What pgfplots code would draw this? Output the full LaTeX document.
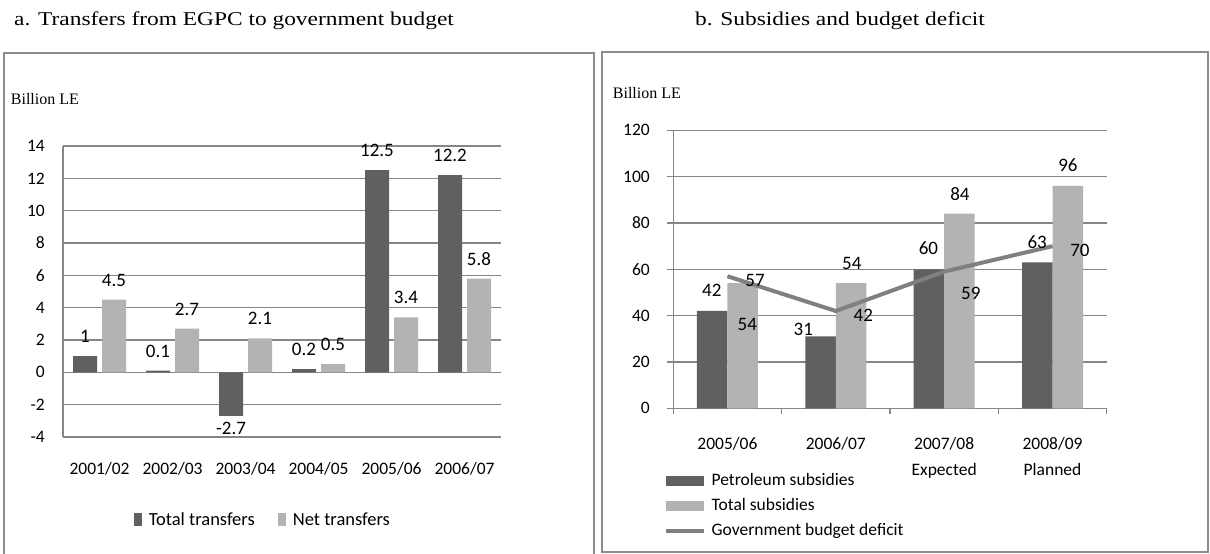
\documentclass[border=0pt]{standalone}
\usepackage{pgfplots}
\pgfplotsset{compat=1.18}
\usepackage{fontspec}
\setmainfont{Carlito}
\newfontfamily\tnr{Liberation Serif}
\newfontfamily\tnrwide[FakeStretch=1.2]{Liberation Serif}
\definecolor{darkbar}{HTML}{606060}
\definecolor{lightbar}{HTML}{B3B3B3}
\definecolor{gridc}{HTML}{868686}
\definecolor{linec}{HTML}{808080}
\definecolor{framec}{HTML}{8C8C8C}
\newcommand{\cf}{\fontsize{17.5}{26}\selectfont}
\newcommand{\lf}{\fontsize{19}{26}\selectfont}
\begin{document}
\begin{tikzpicture}
\useasboundingbox (0pt,0pt) rectangle (1210pt,554pt);
% frames
\draw[framec, line width=2pt] (4pt,-6pt) rectangle (594pt,500.7pt);
\draw[framec, line width=2pt] (601.5pt,1.7pt) rectangle (1208.3pt,501.7pt);
% titles
\node[anchor=base, inner sep=0pt, font=\tnrwide\fontsize{19.5}{22}\selectfont] at (234pt,528pt) {a. Transfers from EGPC to government budget};
\node[anchor=base, inner sep=0pt, font=\tnrwide\fontsize{19.5}{22}\selectfont] at (840pt,528pt) {b. Subsidies and budget deficit};
\node[anchor=base west, inner sep=0pt, font=\tnr\fontsize{16}{18}\selectfont] at (10.7pt,449pt) {Billion LE};
\node[anchor=base west, inner sep=0pt, font=\tnr\fontsize{16}{18}\selectfont] at (612.7pt,455pt) {Billion LE};

% ---------- panel a ----------
\begin{axis}[at={(63pt,117pt)}, anchor=south west, scale only axis,
  width=438pt, height=291pt, clip=false,
  xmin=-0.5, xmax=5.5, ymin=-4, ymax=14,
  ytick={-4,-2,...,14}, xtick={0,...,5},
  xticklabels={2001/02,2002/03,2003/04,2004/05,2005/06,2006/07},
  axis y line*=left, axis x line*=bottom,
  axis line style={gridc, line width=1.3pt},
  ymajorgrids, grid style={gridc, line width=1.3pt},
  major tick length=0pt,
  /pgf/number format/assume math mode=true,
  tick label style={font=\cf},
  yticklabel style={anchor=east, inner sep=0pt, xshift=-18pt},
  xticklabel style={anchor=base, inner sep=0pt, yshift=-37.5pt},
  legend style={at={(0.454,-0.285)}, anchor=center, draw=none, fill=none,
    legend columns=2, font=\fontsize{18.5}{26}\selectfont, inner sep=0pt, nodes={inner sep=0pt},
    /tikz/every odd column/.append style={column sep=6.5pt},
    /tikz/every even column/.append style={column sep=23pt}},
  legend cell align=left,
]
\addplot[ybar, bar width=24pt, bar shift=-14.5pt, fill=darkbar, draw=none,
  nodes near coords, visualization depends on={y \as \rawy},
  every node near coord/.append style={anchor=center, inner sep=0pt, font=\lf, black, xshift=-14.5pt, yshift={(\rawy>0)*31.5-12}},
  legend image code/.code={\fill[darkbar] (0pt,-6.5pt) rectangle (8.5pt,6.5pt);}]
  coordinates {(0,1) (1,0.1) (2,-2.7) (3,0.2) (4,12.5) (5,12.2)};
\addlegendentry{Total transfers}
\addplot[ybar, bar width=24pt, bar shift=14.5pt, fill=lightbar, draw=none,
  nodes near coords, visualization depends on={y \as \rawy},
  every node near coord/.append style={anchor=center, inner sep=0pt, font=\lf, black, xshift=14.5pt, yshift={(\rawy>0)*31.5-12}},
  legend image code/.code={\fill[lightbar] (0pt,-6.5pt) rectangle (8.5pt,6.5pt);}]
  coordinates {(0,4.5) (1,2.7) (2,2.1) (3,0.5) (4,3.4) (5,5.8)};
\addlegendentry{Net transfers}
\end{axis}

% ---------- panel b ----------
\begin{axis}[at={(673.3pt,145.7pt)}, anchor=south west, scale only axis,
  width=433.4pt, height=278pt, clip=false,
  xmin=-0.5, xmax=3.5, ymin=0, ymax=120,
  ytick={0,20,...,120},
  xtick={-0.5,0.5,1.5,2.5,3.5}, x tick label as interval,
  xticklabels={2005/06,2006/07,{\begin{tabular}[t]{@{}c@{}}2007/08\\Expected\end{tabular}},{\begin{tabular}[t]{@{}c@{}}2008/09\\Planned\end{tabular}}},
  axis y line*=left, axis x line*=bottom,
  axis line style={gridc, line width=1.3pt},
  ymajorgrids, grid style={gridc, line width=1.3pt},
  tick align=outside, major tick length=6pt,
  tick style={gridc, line width=1.3pt},
  /pgf/number format/assume math mode=true,
  tick label style={font=\cf},
  yticklabel style={anchor=east, inner sep=0pt, xshift=-17.3pt},
  xticklabel style={anchor=base, inner sep=0pt, yshift=-35.5pt},
  legend style={at={(-0.022,-0.2256)}, anchor=north west, draw=none, fill=none,
    legend columns=1, font=\cf, inner sep=0pt, row sep=5.5pt,
    nodes={inner sep=2pt, text height=12pt, text depth=3.5pt},
    /tikz/every odd column/.append style={column sep=4pt}},
  legend cell align=left,
]
\addplot[ybar, bar width=30.5pt, bar shift=-15.25pt, fill=darkbar, draw=none,
  legend image code/.code={\fill[darkbar] (0pt,-5.3pt) rectangle (37.7pt,5.3pt);}]
  coordinates {(0,42) (1,31) (2,60) (3,63)};
\addlegendentry{Petroleum subsidies}
\addplot[ybar, bar width=30.5pt, bar shift=15.25pt, fill=lightbar, draw=none,
  legend image code/.code={\fill[lightbar] (0pt,-5.3pt) rectangle (37.7pt,5.3pt);}]
  coordinates {(0,54) (1,54) (2,84) (3,96)};
\addlegendentry{Total subsidies}
\addplot[linec, line width=4pt, mark=none,
  legend image code/.code={\draw[linec, line width=4pt] (0pt,0pt) -- (37.7pt,0pt);}]
  coordinates {(0,57) (1,42) (2,59) (3,70)};
\addlegendentry{Government budget deficit}
% data labels, placed where the reference shows them
\addplot[draw=none, mark=none, forget plot, nodes near coords, point meta=explicit symbolic,
  every node near coord/.append style={anchor=center, inner sep=0pt, font=\lf, black}]
  table[meta=label] {
x y label
-0.145 51.1 42
0.254 55.1 57
0.183 36.4 54
0.700 34.1 31
1.147 62.6 54
1.254 40.3 42
1.855 69.1 60
2.145 92.6 84
2.246 49.6 59
2.858 71.8 63
3.142 105.0 96
3.253 68.3 70
};
\end{axis}
\end{tikzpicture}
\end{document}
